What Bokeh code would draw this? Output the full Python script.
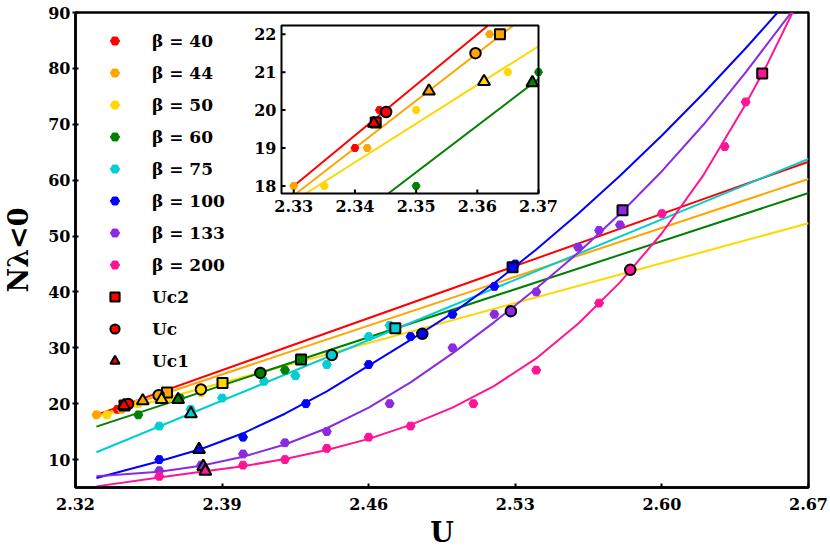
from bokeh.plotting import figure
from bokeh.models import Legend, LegendItem, FixedTicker, PrintfTickFormatter, Range1d
from bokeh.core.properties import value
from bokeh.embed import file_html
from bokeh.resources import INLINE

# ---------------- data ----------------
beta_labels = ["β = 40", "β = 44", "β = 50", "β = 60", "β = 75", "β = 100", "β = 133", "β = 200"]
beta_colors = ["#ff0000", "#ffa500", "#ffd700", "#008000", "#00ced1", "#0000ff", "#8a2be2", "#ff1493"]

b40_u = [2.340, 2.344]
b40_n = [19, 20]
b44_u = [2.330, 2.342, 2.362]
b44_n = [18, 19, 22]
b50_u = [2.335, 2.350, 2.365, 2.380]
b50_n = [18, 20, 21, 22]
b60_u = [2.350, 2.370, 2.420]
b60_n = [18, 21, 26]
b75_u = [2.360, 2.375, 2.390, 2.410, 2.425, 2.440, 2.460, 2.470]
b75_n = [16, 19, 21, 24, 25, 27, 32, 34]
b100_u = [2.36, 2.40, 2.43, 2.46, 2.48, 2.50, 2.52, 2.53]
b100_n = [10, 14, 20, 27, 32, 36, 41, 45]
b133_u = [2.36, 2.38, 2.40, 2.42, 2.44, 2.47, 2.50, 2.52, 2.54, 2.56, 2.57, 2.58]
b133_n = [8, 9, 11, 13, 15, 20, 30, 36, 40, 48, 51, 52]
b200_u = [2.36, 2.40, 2.42, 2.44, 2.46, 2.48, 2.51, 2.54, 2.57, 2.60, 2.63, 2.64]
b200_n = [7, 9, 10, 12, 14, 16, 20, 26, 38, 54, 66, 74]

# fitted curves
fit40_u = [2.33, 2.67]
fit40_n = [18.0, 63.3]
fit44_u = [2.33, 2.67]
fit44_n = [17.75, 60.2]
fit50_u = [2.33, 2.67]
fit50_n = [17.6, 52.3]
fit60_u = [2.33, 2.67]
fit60_n = [15.9, 57.7]
fit75_u = [2.33, 2.67]
fit75_n = [11.3, 63.8]
fit100_u = [2.33, 2.36, 2.38, 2.40, 2.42, 2.44, 2.46, 2.48, 2.50, 2.52, 2.54, 2.56, 2.58, 2.60, 2.62, 2.64, 2.66]
fit100_n = [6.7, 9.7, 11.9, 14.7, 18.2, 22.2, 26.8, 31.4, 36.2, 41.6, 47.6, 54.0, 60.8, 68.0, 75.6, 83.6, 92.0]
fit133_u = [2.33, 2.36, 2.38, 2.40, 2.42, 2.44, 2.46, 2.48, 2.50, 2.52, 2.54, 2.56, 2.58, 2.60, 2.62, 2.64, 2.665]
fit133_n = [7.0, 7.8, 8.9, 10.5, 12.7, 15.6, 19.3, 23.8, 29.0, 34.6, 40.6, 47.0, 54.0, 61.6, 70.0, 79.3, 91.6]
fit200_u = [2.33, 2.36, 2.38, 2.40, 2.42, 2.44, 2.46, 2.48, 2.50, 2.52, 2.54, 2.56, 2.58, 2.60, 2.62, 2.64, 2.65, 2.665]
fit200_n = [5.2, 6.8, 7.8, 8.8, 10.1, 11.7, 13.7, 16.2, 19.3, 23.2, 28.1, 34.3, 41.7, 50.5, 61.0, 73.6, 80.5, 92.0]

# critical points, one per beta (same colour order)
uc2_u = [2.3434, 2.3637, 2.3902, 2.4277, 2.4727, 2.5287, 2.5812, 2.6479]
uc2_n = [19.67, 22.0, 23.7, 27.9, 33.5, 44.4, 54.6, 79.1]
uc_u = [2.3451, 2.3597, 2.3799, 2.4083, 2.4424, 2.4856, 2.5279, 2.5849]
uc_n = [19.95, 21.5, 22.55, 25.5, 28.7, 32.5, 36.55, 43.95]
uc1_u = [2.3431, 2.3521, 2.3611, 2.3690, 2.3751, 2.3790, 2.3810, 2.3820]
uc1_n = [19.65, 20.5, 20.75, 20.72, 18.2, 11.8, 8.75, 7.9]

crit_labels = ["Uc2", "Uc", "Uc1"]

main_xticks = [2.32, 2.39, 2.46, 2.53, 2.60, 2.67]
main_yticks = [10, 20, 30, 40, 50, 60, 70, 80, 90]
inset_xticks = [2.33, 2.34, 2.35, 2.36, 2.37]
inset_yticks = [18, 19, 20, 21, 22]

hex_series = [(b40_u, b40_n), (b44_u, b44_n), (b50_u, b50_n), (b60_u, b60_n),
              (b75_u, b75_n), (b100_u, b100_n), (b133_u, b133_n), (b200_u, b200_n)]
fit_series = [(fit40_u, fit40_n), (fit44_u, fit44_n), (fit50_u, fit50_n), (fit60_u, fit60_n),
              (fit75_u, fit75_n), (fit100_u, fit100_n), (fit133_u, fit133_n), (fit200_u, fit200_n)]

SERIF = "DejaVu Serif"

# ---------------- layout constants ----------------
FW, FH = 733, 475                 # main frame size (px)
INSET_L, INSET_T = 206, 13        # inset frame offset inside main frame (px)
INSET_W, INSET_H = 257, 168       # inset frame size (px)
IX0, IX1 = 2.328, 2.37            # inset axis ranges
IY0, IY1 = 17.8, 22.23

sx = (IX1 - IX0) / INSET_W
sy = (IY1 - IY0) / INSET_H
ix_range = Range1d(IX0 - INSET_L * sx, IX1 + (FW - INSET_L - INSET_W) * sx)
iy_range = Range1d(IY0 - (FH - INSET_T - INSET_H) * sy, IY1 + INSET_T * sy)


def clip_polyline(xs, ys, x0, x1, y0, y1):
    """Liang-Barsky clipping of a polyline to a box; returns list of pieces."""
    pieces, cur = [], []
    for i in range(len(xs) - 1):
        ax, ay, bx, by = xs[i], ys[i], xs[i + 1], ys[i + 1]
        dx, dy = bx - ax, by - ay
        t0, t1, ok = 0.0, 1.0, True
        for pp, qq in ((-dx, ax - x0), (dx, x1 - ax), (-dy, ay - y0), (dy, y1 - ay)):
            if pp == 0:
                if qq < 0:
                    ok = False
                    break
            else:
                r = qq / pp
                if pp < 0:
                    if r > t1:
                        ok = False
                        break
                    t0 = max(t0, r)
                else:
                    if r < t0:
                        ok = False
                        break
                    t1 = min(t1, r)
        if not ok:
            if cur:
                pieces.append(cur)
                cur = []
            continue
        p0 = (ax + t0 * dx, ay + t0 * dy)
        p1 = (ax + t1 * dx, ay + t1 * dy)
        if cur and t0 == 0.0:
            cur.append(p1)
        else:
            if cur:
                pieces.append(cur)
            cur = [p0, p1]
        if t1 < 1.0:
            pieces.append(cur)
            cur = []
    if cur:
        pieces.append(cur)
    return pieces


# ---------------- main figure ----------------
p = figure(frame_width=FW, frame_height=FH,
           x_range=Range1d(2.32, 2.67), y_range=Range1d(5, 90),
           output_backend="svg", toolbar_location=None,
           min_border_left=71, min_border_right=26, min_border_top=12, min_border_bottom=64,
           background_fill_color="white", border_fill_color="white")
p.extra_x_ranges = {"ix": ix_range}
p.extra_y_ranges = {"iy": iy_range}

p.grid.visible = False
p.outline_line_color = "black"
p.outline_line_width = 2.5
for ax in p.axis:
    ax.axis_line_width = 2.5
    ax.axis_line_color = "black"
    ax.major_tick_line_width = 2
    ax.major_tick_line_color = "black"
    ax.minor_tick_line_color = None
    ax.major_label_text_font = SERIF
    ax.major_label_text_font_style = "bold"
    ax.major_label_text_font_size = "16px"
    ax.major_label_text_color = "black"
    ax.axis_label_text_font = SERIF
    ax.axis_label_text_font_style = "bold"
    ax.axis_label_text_font_size = "27px"
    ax.axis_label_text_color = "black"
p.xaxis.ticker = FixedTicker(ticks=main_xticks)
p.xaxis.formatter = PrintfTickFormatter(format="%.2f")
p.yaxis.ticker = FixedTicker(ticks=main_yticks)
p.xaxis.axis_label = "U"
p.yaxis.axis_label = "Nλ<0"
p.xaxis.major_tick_in = 4
p.xaxis.major_tick_out = 0
p.xaxis.major_label_standoff = 10
p.xaxis.axis_label_standoff = 4
p.yaxis.major_tick_in = 3
p.yaxis.major_tick_out = 3
p.yaxis.major_label_standoff = 2
p.yaxis.axis_label_standoff = 11

# main content
for (u, n), c in zip(fit_series, beta_colors):
    p.line(u, n, line_color=c, line_width=2)
hexes = []
for (u, n), c in zip(hex_series, beta_colors):
    hexes.append(p.scatter(u, n, marker="hex", size=9, fill_color=c, line_color=c))
sq = p.scatter(uc2_u, uc2_n, marker="square", size=10, fill_color=beta_colors,
               line_color="black", line_width=2)
ci = p.scatter(uc_u, uc_n, marker="circle", size=10.5, fill_color=beta_colors,
               line_color="black", line_width=2)
tr = p.scatter(uc1_u, uc1_n, marker="triangle", size=12, fill_color=beta_colors,
               line_color="black", line_width=2)
crit = [sq, ci, tr]

# ---------------- inset (drawn on its own ranges) ----------------
IR = dict(x_range_name="ix", y_range_name="iy")
p.quad(left=[IX0], right=[IX1], bottom=[IY0], top=[IY1], fill_color="white", line_color=None, **IR)

for (u, n), c in zip(fit_series, beta_colors):
    pieces = clip_polyline(u, n, IX0, IX1, IY0, IY1)
    if pieces:
        p.multi_line(xs=[[q[0] for q in s] for s in pieces], ys=[[q[1] for q in s] for s in pieces],
                     line_color=c, line_width=2, **IR)


def inside(us, ns):
    return [i for i, (a, b) in enumerate(zip(us, ns)) if IX0 <= a <= IX1 and IY0 <= b <= IY1]


for (u, n), c in zip(hex_series, beta_colors):
    k = inside(u, n)
    if k:
        p.scatter([u[i] for i in k], [n[i] for i in k], marker="hex", size=8,
                  fill_color=c, line_color=c, **IR)
for (us, ns, mk, sz) in ((uc2_u, uc2_n, "square", 10), (uc_u, uc_n, "circle", 10.5),
                         (uc1_u, uc1_n, "triangle", 12)):
    k = inside(us, ns)
    if k:
        p.scatter([us[i] for i in k], [ns[i] for i in k], marker=mk, size=sz,
                  fill_color=[beta_colors[i] for i in k], line_color="black", line_width=2, **IR)

# inset ticks (inward, 4 px), frame and tick labels
p.segment(x0=inset_xticks, x1=inset_xticks, y0=[IY0] * len(inset_xticks),
          y1=[IY0 + 4 * sy] * len(inset_xticks), line_color="black", line_width=2, **IR)
p.segment(x0=[IX0] * len(inset_yticks), x1=[IX0 + 4 * sx] * len(inset_yticks),
          y0=inset_yticks, y1=inset_yticks, line_color="black", line_width=2, **IR)
p.quad(left=[IX0], right=[IX1], bottom=[IY0], top=[IY1], fill_color=None,
       line_color="black", line_width=2, **IR)
p.text(x=inset_xticks, y=[IY0] * len(inset_xticks), text=[f"{t:.2f}" for t in inset_xticks],
       text_align="center", text_baseline="top", y_offset=6,
       text_font=value(SERIF), text_font_style="bold", text_font_size="16px",
       text_color="black", **IR)
p.text(x=[IX0] * len(inset_yticks), y=inset_yticks, text=[str(t) for t in inset_yticks],
       text_align="right", text_baseline="middle", x_offset=-5,
       text_font=value(SERIF), text_font_style="bold", text_font_size="16px",
       text_color="black", **IR)

# ---------------- legend ----------------
items = [LegendItem(label=lab, renderers=[r]) for lab, r in zip(beta_labels, hexes)]
items += [LegendItem(label=lab, renderers=[r], index=0) for lab, r in zip(crit_labels, crit)]
legend = Legend(items=items, location="top_left", margin=17, padding=0, spacing=9,
                glyph_width=45, glyph_height=23, label_height=23, label_standoff=15,
                border_line_color=None, background_fill_alpha=0,
                label_text_font=SERIF, label_text_font_style="bold",
                label_text_font_size="17px", label_text_color="black")
p.add_layout(legend)

open("out.html", "w").write(file_html(p, INLINE))
